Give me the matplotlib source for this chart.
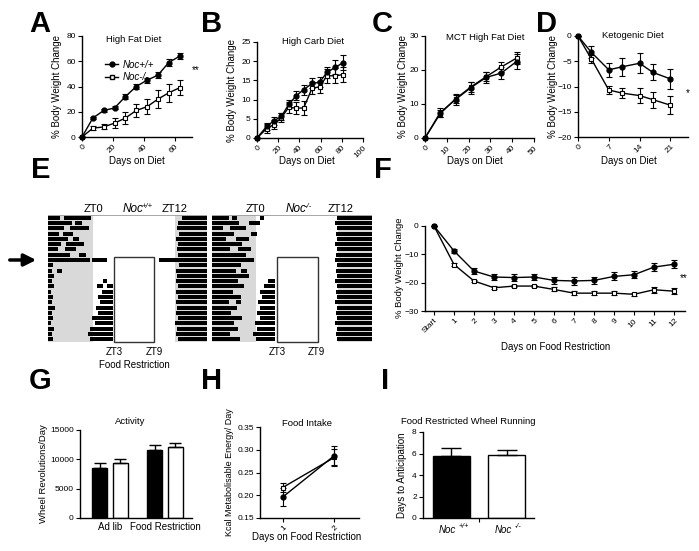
import matplotlib
matplotlib.use("Agg")
import matplotlib.pyplot as plt
from matplotlib.lines import Line2D
from matplotlib.patches import Rectangle, FancyArrowPatch

matplotlib.rc('font', family='Liberation Sans', size=6.5)
matplotlib.rc('axes', linewidth=1.0)

W, H = 699.0, 551.0

# ---- A: high fat diet
hf_days = [0, 7, 14, 21, 28, 35, 42, 49, 56, 63]
hf_wt = [0, 15, 21, 23, 32, 40, 45, 49, 59, 64]
hf_wt_err = [0, 1, 1, 1.2, 2, 2, 2, 2.5, 2.5, 2.5]
hf_ko = [0, 7, 8, 11, 15, 21, 24, 30, 35, 39]
hf_ko_err = [0, 1.5, 2, 4, 5, 5, 6, 7, 7, 6]

# ---- B: high carb diet
hc_days = [0, 9, 16, 23, 30, 37, 44, 52, 59, 66, 74, 81]
hc_wt = [0, 3.0, 4.5, 5.6, 8.8, 11.0, 12.6, 14.2, 14.5, 17.1, 18.4, 19.6]
hc_wt_err = [0, 1, 1, 1, 1, 1.2, 1.3, 1.3, 1.3, 1.5, 1.8, 2]
hc_ko = [0, 2.4, 3.5, 5.3, 8.0, 7.8, 7.8, 13.0, 13.3, 16.2, 16.2, 16.5]
hc_ko_err = [0, 1.2, 1.2, 1.2, 1.5, 1.5, 1.8, 1.5, 1.5, 1.8, 2, 2]

# ---- C: MCT high fat diet
mct_days = [0, 7, 14, 21, 28, 35, 42]
mct_wt = [0, 7.5, 11.3, 14.8, 17.8, 19.1, 22.5]
mct_wt_err = [0, 1.2, 1.5, 1.8, 1.5, 1.7, 2.2]
mct_ko = [0, 7.2, 11.5, 15.0, 18.0, 20.9, 23.5]
mct_ko_err = [0, 1.0, 1.2, 1.5, 1.3, 1.5, 1.8]

# ---- D: ketogenic diet
keto_days = [0, 3, 7, 10, 14, 17, 21]
keto_wt = [0, -3.2, -6.7, -6.1, -5.4, -7.2, -8.5]
keto_wt_err = [0, 1.2, 1.4, 1.8, 2.0, 1.6, 2.0]
keto_ko = [0, -4.5, -10.7, -11.3, -11.8, -12.6, -13.7]
keto_ko_err = [0, 0.8, 0.8, 1.0, 1.5, 1.6, 1.8]

# ---- E: actograms, activity bouts per day (ZT hours)
wt_bouts = [
    [(-6.6, -4.9), (-4.3, -0.3), (13.0, 16.7)],
    [(-6.6, -3.1), (-2.6, -1.6), (12.5, 16.7)],
    [(-6.6, -4.2), (-3.4, -0.6), (12.3, 16.7)],
    [(-6.6, -5.0), (-4.4, -2.9), (12.6, 16.7)],
    [(-6.6, -3.6), (-2.9, -2.1), (12.2, 16.7)],
    [(-6.6, -4.7), (-3.9, -1.3), (12.5, 16.7)],
    [(-6.6, -5.1), (-4.1, -2.5), (12.3, 16.7)],
    [(-6.6, -3.4), (-2.0, -1.1), (12.4, 16.7)],
    [(-6.6, -0.5), (-0.2, 2.0), (9.6, 16.7)],
    [(-6.6, -5.9), (12.6, 16.7)],
    [(-6.6, -6.0), (-5.3, -4.5), (12.1, 16.7)],
    [(-6.6, -5.7), (12.3, 16.7)],
    [(-6.6, -6.0), (1.5, 2.1), (12.2, 16.7)],
    [(-6.6, -5.7), (0.6, 1.4), (2.0, 2.9), (12.5, 16.7)],
    [(-6.6, -6.1), (1.3, 2.9), (12.2, 16.7)],
    [(-6.6, -5.8), (0.8, 2.9), (12.4, 16.7)],
    [(-6.6, -6.0), (1.0, 2.9), (12.1, 16.7)],
    [(-6.6, -5.6), (0.4, 2.9), (12.3, 16.7)],
    [(-6.6, -6.0), (0.7, 2.9), (12.2, 16.7)],
    [(-6.6, -5.9), (-0.2, 2.9), (12.5, 16.7)],
    [(-6.6, -6.1), (0.3, 2.9), (12.0, 16.7)],
    [(-6.6, -5.7), (-0.5, 2.9), (12.3, 16.7)],
    [(-6.6, -6.0), (-0.8, 2.9), (12.2, 16.7)],
    [(-6.6, -5.8), (-0.4, 2.9), (12.4, 16.7)],
]
ko_bouts = [
    [(-6.45, -4.0), (-3.5, -2.8), (0.5, 1.2), (11.8, 16.95)],
    [(-6.45, -2.5), (-1.0, 0.5), (11.6, 16.95)],
    [(-6.45, -4.8), (-3.8, -1.5), (11.9, 16.95)],
    [(-6.45, -3.2), (-0.8, 0.2), (11.7, 16.95)],
    [(-6.45, -4.4), (-3.0, -1.0), (11.8, 16.95)],
    [(-6.45, -2.0), (11.6, 16.95)],
    [(-6.45, -3.8), (-2.6, -0.8), (11.9, 16.95)],
    [(-6.45, -1.5), (11.7, 16.95)],
    [(-6.45, -0.3), (11.5, 16.95)],
    [(-6.45, -2.2), (11.8, 16.95)],
    [(-6.45, -3.0), (-2.2, -1.4), (11.7, 16.95)],
    [(-6.45, -1.0), (11.9, 16.95)],
    [(-6.45, -2.6), (1.8, 2.8), (11.6, 16.95)],
    [(-6.45, -1.8), (1.2, 2.8), (11.8, 16.95)],
    [(-6.45, -3.4), (0.6, 2.8), (11.7, 16.95)],
    [(-6.45, -2.2), (0.9, 2.8), (11.9, 16.95)],
    [(-6.45, -4.0), (-3.0, -2.2), (0.3, 2.8), (11.6, 16.95)],
    [(-6.45, -2.8), (0.6, 2.8), (11.8, 16.95)],
    [(-6.45, -3.6), (0.2, 2.8), (11.7, 16.95)],
    [(-6.45, -2.0), (0.5, 2.8), (11.9, 16.95)],
    [(-6.45, -3.2), (-0.2, 2.8), (11.6, 16.95)],
    [(-6.45, -2.6), (0.1, 2.8), (11.8, 16.95)],
    [(-6.45, -3.8), (-0.4, 2.8), (11.7, 16.95)],
    [(-6.45, -2.4), (0.0, 2.8), (11.9, 16.95)],
]
fr_start_row = 8

# ---- F: food restriction weight
fr_labels = ['Start'] + [str(d) for d in range(1, 13)]
fr_wt = [0, -8.8, -15.9, -18.0, -18.2, -18.0, -19.2, -19.4, -19.2, -17.8, -17.2, -14.5, -13.5]
fr_wt_err = [0, 0.8, 1.0, 1.2, 1.2, 1.2, 1.2, 1.5, 1.3, 1.4, 1.3, 1.3, 1.4]
fr_ko = [0, -13.6, -19.4, -21.8, -21.2, -21.2, -22.4, -23.7, -23.7, -23.7, -24.1, -22.5, -23.0]
fr_ko_err = [0, 0.5, 0.5, 0.5, 0.5, 0.5, 0.7, 0.6, 0.8, 0.6, 0.6, 1.0, 1.0]

# ---- G: wheel activity
act_groups = ['Ad lib', 'Food Restriction']
act_wt = [8500, 11620]
act_wt_err = [850, 840]
act_ko = [9350, 12070]
act_ko_err = [650, 680]

# ---- H: food intake
fi_days = [1, 2]
fi_wt = [0.196, 0.287]
fi_wt_err = [0.02, 0.021]
fi_ko = [0.217, 0.283]
fi_ko_err = [0.01, 0.018]

# ---- I: days to anticipation
ant_vals = [5.73, 5.89]
ant_err = [0.78, 0.46]


def px_axes(fig, left, top, right, bottom):
    return fig.add_axes([left / W, 1 - bottom / H, (right - left) / W, (bottom - top) / H])


def ftext(fig, x, y, s, **kw):
    kw.setdefault('ha', 'center')
    kw.setdefault('va', 'center')
    return fig.text(x / W, 1 - y / H, s, **kw)


def style(ax):
    for side in ('top', 'right'):
        ax.spines[side].set_visible(False)
    ax.tick_params(direction='out', length=3, width=0.8, pad=1.5, labelsize=6)


def plot_pair(ax, x, wt, wt_err, ko, ko_err):
    kw = dict(color='black', lw=1, ms=3.5, capsize=2, elinewidth=0.8,
              capthick=0.8, clip_on=False)
    ax.errorbar(x, ko, yerr=ko_err, marker='s', mfc='white', mec='black', mew=0.8, **kw)
    ax.errorbar(x, wt, yerr=wt_err, marker='o', **kw)


def rot_ticks(ax, ticks, labels):
    ax.set_xticks(ticks)
    ax.set_xticklabels(labels, rotation=45, ha='right', rotation_mode='anchor')


fig = plt.figure(figsize=(6.99, 5.51), dpi=100)

diet_specs = [
    ((82, 36, 192, 137), hf_days, hf_wt, hf_wt_err, hf_ko, hf_ko_err,
     'High Fat Diet', (0, 71), (0, 80), [0, 20, 40, 60], [0, 20, 40, 60, 80],
     (57, 134, 40, 137)),
    ((257, 42, 363, 138), hc_days, hc_wt, hc_wt_err, hc_ko, hc_ko_err,
     'High Carb Diet', (0, 100), (0, 25), [0, 20, 40, 60, 80, 100], [0, 5, 10, 15, 20, 25],
     (232, 313, 41, 307)),
    ((425, 36, 534, 138), mct_days, mct_wt, mct_wt_err, mct_ko, mct_ko_err,
     'MCT High Fat Diet', (0, 50), (0, 30), [0, 10, 20, 30, 40, 50], [0, 10, 20, 30],
     (403, 485, 37, 475)),
    ((578, 36, 688, 137), keto_days, keto_wt, keto_wt_err, keto_ko, keto_ko_err,
     'Ketogenic Diet', (0, 25), (-20, 0), [0, 7, 14, 21], [0, -5, -10, -15, -20],
     (553, 633, 35, 629)),
]

diet_axes = []
for box, x, wt, wte, ko, koe, title, xl, yl, xt, yt, pos in diet_specs:
    ax = px_axes(fig, *box)
    style(ax)
    plot_pair(ax, x, wt, wte, ko, koe)
    ax.set_xlim(*xl)
    ax.set_ylim(*yl)
    ax.set_yticks(yt)
    rot_ticks(ax, xt, [str(v) for v in xt])
    ylab_x, title_x, title_y, xlab_x = pos
    ftext(fig, ylab_x, (box[1] + box[3]) / 2, '% Body Weight Change', rotation=90, fontsize=7)
    ftext(fig, title_x, title_y, title, fontsize=6.8)
    ftext(fig, xlab_x, 161, 'Days on Diet', fontsize=7)
    diet_axes.append(ax)

# legend in A
handles = [Line2D([], [], color='black', lw=1, marker='o', ms=3.5),
           Line2D([], [], color='black', lw=1, marker='s', ms=3.5, mfc='white')]
diet_axes[0].legend(handles, ['Noc+/+', 'Noc-/-'], loc='upper left',
                    bbox_to_anchor=(96 / W, 1 - 51 / H), bbox_transform=fig.transFigure,
                    frameon=False, handlelength=1.4, handletextpad=0.4,
                    labelspacing=0.25, prop={'style': 'italic', 'size': 7})
ftext(fig, 196, 70, '**', fontsize=7)
ftext(fig, 688, 93, '*', fontsize=7)


# ---- E actograms
def actogram(ax, bouts, lo, hi):
    n = len(bouts)
    ax.axvspan(lo, 0, color='#d9d9d9', lw=0)
    ax.axvspan(12, hi, color='#d9d9d9', lw=0)
    for i, row in enumerate(bouts):
        ax.broken_barh([(a, b - a) for a, b in row], (i + 0.12, 0.76), facecolors='black')
    ax.add_patch(Rectangle((3, fr_start_row), 6, n - fr_start_row, fill=False,
                           ec='#333333', lw=1.0, clip_on=False, zorder=5))
    ax.set_xlim(lo, hi)
    ax.set_ylim(n, 0)
    ax.set_xticks([])
    ax.set_yticks([])
    for s in ax.spines.values():
        s.set_visible(False)
    ax.axhline(0, color='#999999', lw=0.6)


ax_e1 = px_axes(fig, 48, 215, 207, 342)
actogram(ax_e1, wt_bouts, -6.6, 16.7)
ax_e2 = px_axes(fig, 212, 215, 372, 342)
actogram(ax_e2, ko_bouts, -6.45, 16.95)

for x0, x12, xn, sup in [(93, 175, 133, '+/+'), (255, 341, 296, '-/-')]:
    ftext(fig, x0, 209, 'ZT0', fontsize=8)
    ftext(fig, x12, 209, 'ZT12', fontsize=8)
    ftext(fig, xn, 209, 'Noc', style='italic', fontsize=8.5)
    ftext(fig, xn + 9, 206, sup, style='italic', fontsize=5.5, ha='left')
for x3, x9 in [(114, 154), (277, 316)]:
    ftext(fig, x3, 352, 'ZT3', fontsize=7)
    ftext(fig, x9, 352, 'ZT9', fontsize=7)
ftext(fig, 134, 365, 'Food Restriction', fontsize=7)
fig.add_artist(FancyArrowPatch(
    (7 / W, 1 - 260 / H), (39 / W, 1 - 260 / H), transform=fig.transFigure,
    arrowstyle='-|>', mutation_scale=18, lw=2.5, color='black'))

# ---- F
ax_f = px_axes(fig, 425, 226, 685, 311)
style(ax_f)
fr_x = list(range(len(fr_labels)))
plot_pair(ax_f, fr_x, fr_wt, fr_wt_err, fr_ko, fr_ko_err)
ax_f.set_xlim(-0.45, 12.55)
ax_f.set_ylim(-30, 0)
ax_f.set_yticks([0, -10, -20, -30])
rot_ticks(ax_f, fr_x, fr_labels)
ftext(fig, 399, 268, '% Body Weight Change', rotation=90, fontsize=6.8)
ftext(fig, 556, 347, 'Days on Food Restriction', fontsize=7)
ftext(fig, 684, 278, '**', fontsize=7)

# ---- G
ax_g = px_axes(fig, 80, 430, 192, 518)
style(ax_g)
gx = [0, 1]
off, bw = 0.19, 0.265
ax_g.bar([g - off for g in gx], act_wt, bw, color='black', ec='black', lw=1,
         yerr=[[0, 0], act_wt_err], capsize=4, error_kw=dict(lw=1, capthick=1))
ax_g.bar([g + off for g in gx], act_ko, bw, color='white', ec='black', lw=1,
         yerr=[[0, 0], act_ko_err], capsize=4, error_kw=dict(lw=1, capthick=1))
ax_g.set_xlim(-0.545, 1.49)
ax_g.set_ylim(0, 15000)
ax_g.set_yticks([0, 5000, 10000, 15000])
ax_g.set_xticks(gx)
ax_g.set_xticklabels(act_groups, fontsize=7)
ax_g.tick_params(axis='x', length=0, pad=3)
ftext(fig, 44, 474, 'Wheel Revolutions/Day', rotation=90, fontsize=6.8)
ftext(fig, 130, 421, 'Activity', fontsize=6.8)

# ---- H
ax_h = px_axes(fig, 260, 427, 359, 518)
style(ax_h)
plot_pair(ax_h, fi_days, fi_wt, fi_wt_err, fi_ko, fi_ko_err)
ax_h.set_xlim(0.56, 2.48)
ax_h.set_ylim(0.15, 0.35)
ax_h.set_yticks([0.15, 0.20, 0.25, 0.30, 0.35])
ax_h.set_yticklabels(['0.15', '0.20', '0.25', '0.30', '0.35'])
rot_ticks(ax_h, fi_days, ['1', '2'])
ftext(fig, 230, 472, 'Kcal Metabolisable Energy/ Day', rotation=90, fontsize=6.5)
ftext(fig, 307, 537, 'Days on Food Restriction', fontsize=7)
ftext(fig, 307, 423, 'Food Intake', fontsize=6.8)

# ---- I
ax_i = px_axes(fig, 423, 432, 534, 518)
style(ax_i)
ax_i.bar([0, 1], ant_vals, 0.67, color=['black', 'white'], ec='black', lw=1,
         yerr=[[0, 0], ant_err], capsize=7, error_kw=dict(lw=1, capthick=1))
ax_i.set_xlim(-0.51, 1.49)
ax_i.set_ylim(0, 8)
ax_i.set_yticks([0, 2, 4, 6, 8])
ax_i.set_xticks([0.5])
ax_i.set_xticklabels([''])
ftext(fig, 402, 475, 'Days to Anticipation', rotation=90, fontsize=7)
ftext(fig, 468, 422, 'Food Restricted Wheel Running', fontsize=6.8)
for xc, sup in [(451, '+/+'), (507, '-/-')]:
    ftext(fig, xc - 4, 530, 'Noc', style='italic', fontsize=7)
    ftext(fig, xc + 8, 527, sup, style='italic', fontsize=5, ha='left')

# panel letters
for letter, x, y in [('A', 40, 24), ('B', 212, 24), ('C', 382, 24), ('D', 547, 24),
                     ('E', 41, 170), ('F', 383, 170), ('G', 40, 381), ('H', 212, 381),
                     ('I', 385, 381)]:
    ftext(fig, x, y, letter, fontsize=21, fontweight='bold')

fig.savefig('out.png', dpi=100)
